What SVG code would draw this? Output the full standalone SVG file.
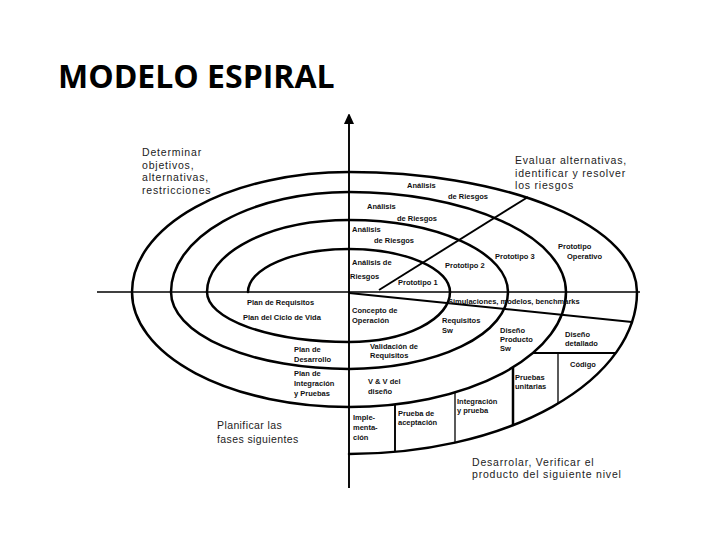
<svg xmlns="http://www.w3.org/2000/svg" width="720" height="540" viewBox="0 0 720 540">
<defs>
<marker id="arrow" markerWidth="10" markerHeight="12" refX="5" refY="6" orient="auto" markerUnits="userSpaceOnUse">
<path d="M0,1 L11,6 L0,11 z" fill="#000"/>
</marker>
<style>
.title{font-family:"Open Sans","Liberation Sans",sans-serif;font-weight:bold;font-size:32px;fill:#000}
.big{font-family:"Liberation Sans",Arial,sans-serif;font-size:10.5px;fill:#222;letter-spacing:0.8px}
.sm{font-family:"Liberation Sans",Arial,sans-serif;font-size:7.5px;font-weight:bold;fill:#111}
.curve{fill:none;stroke:#000;stroke-width:2.5;stroke-linecap:round}
.thin{fill:none;stroke:#000;stroke-width:1.3}
.mid{fill:none;stroke:#000;stroke-width:1.9}
</style>
</defs>
<rect width="720" height="540" fill="#fff"/>
<text class="title" x="58" y="88">MODELO ESPIRAL</text>

<g id="axes">
<line class="mid" x1="349" y1="488" x2="349" y2="119" stroke-width="2.5" marker-end="url(#arrow)"/>
<line class="thin" x1="97" y1="292" x2="640" y2="292"/>
</g>

<g id="spiral">
<path class="curve" d="M248,292 A101,43 0 0 1 349,249 A101,43 0 0 1 450,292 A101,50 0 0 1 349,342 A142,50 0 0 1 207,292 A142,72 0 0 1 349,220 A159,72 0 0 1 508,292 A159,77 0 0 1 349,369 A178,77 0 0 1 171,292 A178,100 0 0 1 349,192 A217,100 0 0 1 566,292 A217,115 0 0 1 349,407 A217,115 0 0 1 132,292 A217,120 0 0 1 349,172 A288,120 0 0 1 637,292 A288,162 0 0 1 349,454"/>
</g>

<g id="connectors">
<line class="mid" x1="379" y1="290" x2="528" y2="197"/>
<line class="mid" x1="349" y1="293" x2="632" y2="322"/>
<line class="mid" x1="533" y1="353" x2="616" y2="353"/>
<line class="thin" x1="558" y1="353" x2="558" y2="403"/>
<line class="curve" x1="513" y1="368" x2="513" y2="425"/>
<line class="thin" x1="455" y1="392" x2="455" y2="443"/>
<line class="mid" x1="395" y1="404" x2="395" y2="452"/>
</g>

<g id="quadrant-labels">
<text class="big" x="142" y="156">Determinar</text>
<text class="big" x="142" y="168.5">objetivos,</text>
<text class="big" x="142" y="181">alternativas,</text>
<text class="big" x="142" y="193.5">restricciones</text>
<text class="big" x="515" y="164">Evaluar alternativas,</text>
<text class="big" x="515" y="176.5">identificar y resolver</text>
<text class="big" x="515" y="189">los riesgos</text>
<text class="big" x="217" y="429" style="letter-spacing:0.4px">Planificar las</text>
<text class="big" x="217" y="443" style="letter-spacing:0.4px">fases siguientes</text>
<text class="big" x="472" y="465.5">Desarrolar, Verificar el</text>
<text class="big" x="472" y="478">producto del siguiente nivel</text>
</g>

<g id="risk-labels">
<text class="sm" x="407" y="188">Análisis</text>
<text class="sm" x="448" y="199">de Riesgos</text>
<text class="sm" x="367" y="209">Análisis</text>
<text class="sm" x="397" y="221">de Riesgos</text>
<text class="sm" x="352" y="232">Análisis</text>
<text class="sm" x="374" y="243">de Riesgos</text>
<text class="sm" x="352" y="265">Análisis de</text>
<text class="sm" x="350" y="279">Riesgos</text>
</g>

<g id="prototype-labels">
<text class="sm" x="398" y="285">Prototipo 1</text>
<text class="sm" x="445" y="268">Prototipo 2</text>
<text class="sm" x="495" y="259">Prototipo 3</text>
<text class="sm" x="558" y="249">Prototipo</text>
<text class="sm" x="567" y="259">Operativo</text>
<text class="sm" x="448" y="304">Simulaciones, modelos, benchmarks</text>
</g>

<g id="development-labels">
<text class="sm" x="352" y="313">Concepto de</text>
<text class="sm" x="352" y="323">Operación</text>
<text class="sm" x="442" y="323">Requisitos</text>
<text class="sm" x="442" y="333">Sw</text>
<text class="sm" x="500" y="333">Diseño</text>
<text class="sm" x="500" y="342">Producto</text>
<text class="sm" x="500" y="351">Sw</text>
<text class="sm" x="565" y="337">Diseño</text>
<text class="sm" x="565" y="346">detallado</text>
<text class="sm" x="570" y="367">Código</text>
<text class="sm" x="515" y="380">Pruebas</text>
<text class="sm" x="515" y="389">unitarias</text>
<text class="sm" x="457" y="404">Integración</text>
<text class="sm" x="457" y="413">y prueba</text>
<text class="sm" x="370" y="349">Validación de</text>
<text class="sm" x="370" y="358">Requisitos</text>
<text class="sm" x="368" y="384">V &amp; V del</text>
<text class="sm" x="368" y="394">diseño</text>
<text class="sm" x="353" y="420">Imple-</text>
<text class="sm" x="353" y="430">menta-</text>
<text class="sm" x="353" y="440">ción</text>
<text class="sm" x="398" y="416">Prueba de</text>
<text class="sm" x="398" y="425">aceptación</text>
</g>

<g id="plan-labels">
<text class="sm" x="247" y="305">Plan de Requisitos</text>
<text class="sm" x="243" y="320">Plan del Ciclo de Vida</text>
<text class="sm" x="294" y="352">Plan de</text>
<text class="sm" x="294" y="362">Desarrollo</text>
<text class="sm" x="294" y="376">Plan de</text>
<text class="sm" x="294" y="386">Integración</text>
<text class="sm" x="294" y="396">y Pruebas</text>
</g>
</svg>
